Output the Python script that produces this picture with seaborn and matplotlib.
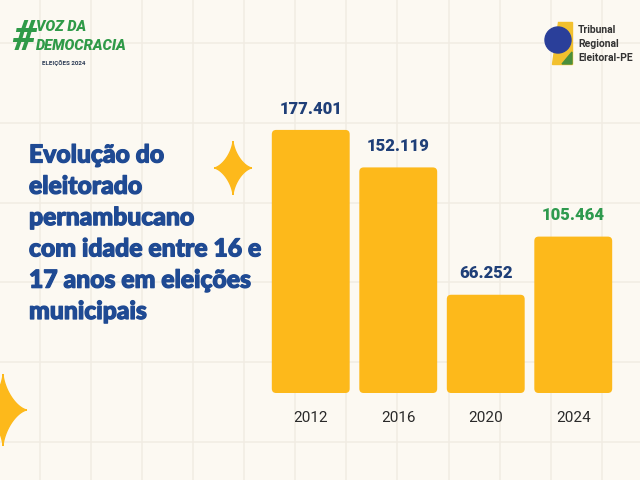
import numpy as np
import pandas as pd
import matplotlib
matplotlib.use("Agg")
import matplotlib.pyplot as plt
import matplotlib.patheffects as pe
from matplotlib.patches import Polygon, Circle, FancyBboxPatch
import seaborn as sns

# ---- data ----
anos = ["2012", "2016", "2020", "2024"]
eleitores = [177401, 152119, 66252, 105464]
rotulos = ["177.401", "152.119", "66.252", "105.464"]
cores_rotulo = ["#1f3f78", "#1f3f78", "#1f3f78", "#2e9a4e"]
titulo = ["Evolução do", "eleitorado", "pernambucano",
          "com idade entre 16 e", "17 anos em eleições", "municipais"]

sns.set_theme(style="white")
plt.rcParams['font.family'] = ['Roboto', 'DejaVu Sans']

BG = "#fcf9f2"
GRID = "#f1ece3"
YEL = "#fdb91b"
BLUE = "#1f4a93"

fig = plt.figure(figsize=(6.4, 4.8), dpi=100)
fig.patch.set_facecolor(BG)

# background pixel-space axes
bg = fig.add_axes([0, 0, 1, 1], zorder=0)
bg.set_xlim(0, 640); bg.set_ylim(480, 0)
bg.set_facecolor(BG); bg.axis("off")
for x in np.arange(39.7, 640, 51.1):
    bg.plot([x, x], [0, 480], color=GRID, lw=1.1, zorder=0)
for y in np.arange(43, 480, 79.8):
    bg.plot([0, 640], [y, y], color=GRID, lw=1.1, zorder=0)

def sparkle(ax, cx, cy, rx, ry, color):
    pts = []
    for t in np.linspace(0, 2*np.pi, 240, endpoint=False):
        c, s = np.cos(t), np.sin(t)
        px = cx + rx*np.sign(c)*abs(c)**3
        py = cy + ry*np.sign(s)*abs(s)**3
        pts.append((px, py))
    ax.add_patch(Polygon(pts, closed=True, color=color, zorder=2))

sparkle(bg, 233, 168, 19, 27, YEL)
sparkle(bg, 3, 410, 24, 36, YEL)

# title
for i, line in enumerate(titulo):
    bg.text(29, 155 + i*31.3, line, fontsize=17.8, fontweight="black",
            color=BLUE, va="center", ha="left", zorder=3,
            family=['Lato', 'DejaVu Sans'],
            path_effects=[pe.withStroke(linewidth=0.9, foreground=BLUE)])

# top-left logo
bg.text(12, 38, "#", fontsize=30, fontweight="black", color="#2f9a48",
        va="center", ha="left", style="italic", zorder=3)
bg.text(36, 27, "VOZ DA", fontsize=10.5, fontweight="black", color="#2f9a48",
        va="center", ha="left", style="italic", zorder=3)
bg.text(36, 46, "DEMOCRACIA", fontsize=10.5, fontweight="black", color="#2f9a48",
        va="center", ha="left", style="italic", zorder=3)
bg.text(42, 63, "ELEIÇÕES 2024", fontsize=4.5, fontweight="bold", color="#2b3b55",
        va="center", ha="left", zorder=3)

# top-right logo
bg.add_patch(Polygon([(558, 22), (572, 22), (572, 64), (552, 64)], closed=True,
                     color="#f2c02e", zorder=2))
bg.add_patch(Polygon([(562, 64), (572, 52), (572, 64)], closed=True,
                     color="#4a8f3c", zorder=2))
bg.add_patch(Circle((558, 40), 13, color="#2a3f9a", zorder=3))
for j, t in enumerate(["Tribunal", "Regional", "Eleitoral-PE"]):
    bg.text(578, 30 + j*14, t, fontsize=7.5, fontweight="bold", color="#333333",
            va="center", ha="left", zorder=3)

# chart axes: x 267..617 px, y 96..393 px
AX_W, AX_H = 350, 296.6
YMAX = 200000
ax = fig.add_axes([267/640, (480-393)/480, AX_W/640, AX_H/480], zorder=1)
ax.patch.set_alpha(0)
df = pd.DataFrame({"ano": anos, "eleitores": eleitores})
sns.barplot(data=df, x="ano", y="eleitores", color=YEL, width=0.89,
            saturation=1, ax=ax)
ax.set_ylim(0, YMAX)
ax.set_xlim(-0.5, 3.5)

# rounded bar corners
aspect = (YMAX/AX_H) / (4/AX_W)
for p in list(ax.patches):
    x0, y0 = p.get_x(), p.get_y()
    w, h = p.get_width(), p.get_height()
    p.set_visible(False)
    fb = FancyBboxPatch((x0, y0), w, h,
                        boxstyle="round,pad=0,rounding_size=0.05",
                        mutation_aspect=aspect,
                        facecolor=YEL, edgecolor="none", zorder=2)
    ax.add_patch(fb)

for i, (v, lab, c) in enumerate(zip(eleitores, rotulos, cores_rotulo)):
    ax.text(i, v + 9000, lab, ha="center", va="bottom", fontsize=12,
            fontweight="heavy", color=c)

ax.set_xlabel(""); ax.set_ylabel("")
ax.set_yticks([])
ax.tick_params(axis="x", length=0, pad=13, labelsize=11, labelcolor="#2a2a2a")
for s in ax.spines.values():
    s.set_visible(False)

fig.savefig("out.png", dpi=100, facecolor=BG)
